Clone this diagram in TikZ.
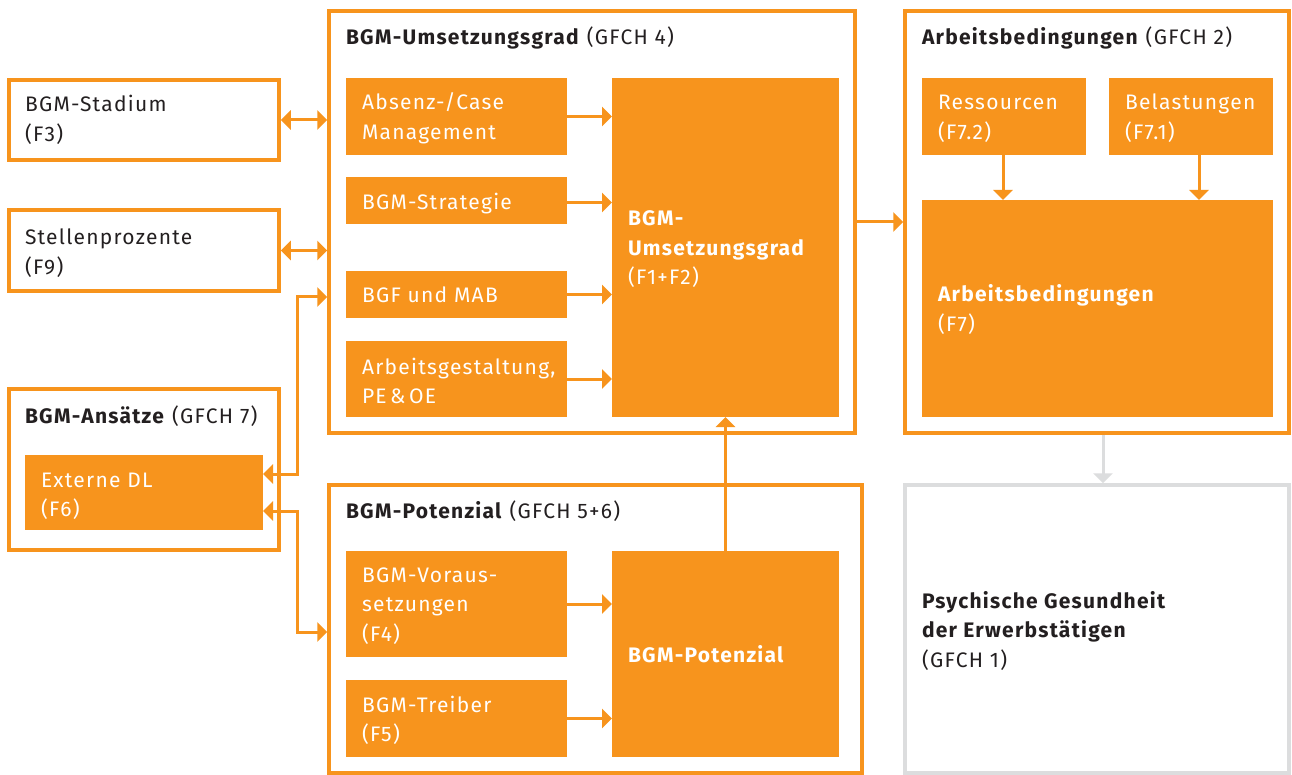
\documentclass[tikz,border=0pt]{standalone}
\usepackage{fontspec}
\setmainfont{Fira Sans}[LetterSpace=6]
\usetikzlibrary{arrows.meta,calc}
\definecolor{org}{HTML}{F7941D}
\definecolor{txt}{HTML}{231F20}
\definecolor{gry}{HTML}{DCDDDE}
\newcommand\mkbox[6]{\node[#2,anchor=north west,minimum width={(#5-#3)*1pt},minimum height={(#6-#4)*1pt}] (#1) at (#3,#4) {};}
\begin{document}
\begin{tikzpicture}[x=1pt,y=-1pt,
  obox/.style={draw=org,line width=3.5pt,fill=white,inner sep=0pt,outer sep=0pt,rectangle},
  gbox/.style={obox,draw=gry},
  fbox/.style={fill=org,inner sep=0pt,outer sep=0pt,rectangle},
  lbl/.style={anchor=base west,inner sep=0pt,outer sep=0pt,font=\fontsize{21}{29.5}\selectfont,text=txt,align=left},
  wlbl/.style={lbl,text=white},
  con/.style={draw=org,line width=3pt,-{Triangle[width=19pt,length=10pt]}},
  dcon/.style={draw=org,line width=3pt,{Triangle[width=19pt,length=10pt]}-{Triangle[width=19pt,length=10pt]}},
  gcon/.style={draw=gry,line width=3pt,-{Triangle[width=19pt,length=10pt]}},
]
\path[fill=white] (0,0) rectangle (1292,775);
\useasboundingbox (0,0) rectangle (1292,775);
% outline boxes (line centres)
\mkbox{stadium}{obox}{9}{80}{279}{160}
\mkbox{stellen}{obox}{9}{210}{279}{291}
\mkbox{ansaetze}{obox}{9}{389}{279}{550}
\mkbox{umsOuter}{obox}{329}{11}{855}{433}
\mkbox{potOuter}{obox}{329}{485}{862}{773}
\mkbox{arbOuter}{obox}{905}{11}{1289}{433}
\mkbox{psych}{gbox}{905}{485}{1289}{773}
% filled boxes
\mkbox{extdl}{fbox}{25}{455}{263}{530}
\mkbox{absenz}{fbox}{346}{78}{567}{155}
\mkbox{strat}{fbox}{346}{177}{567}{224}
\mkbox{bgf}{fbox}{346}{271}{567}{318}
\mkbox{arbgest}{fbox}{346}{341}{567}{417}
\mkbox{umsBig}{fbox}{612}{78}{839}{417}
\mkbox{voraus}{fbox}{346}{551}{567}{657}
\mkbox{treiber}{fbox}{346}{680}{567}{757}
\mkbox{potBig}{fbox}{612}{551}{839}{757}
\mkbox{ress}{fbox}{922}{78}{1086}{155}
\mkbox{belast}{fbox}{1109}{78}{1273}{155}
\mkbox{arbBig}{fbox}{922}{200}{1273}{417}
% texts (anchor = baseline of the last line)
\node[lbl] (tStadium) at (25,141.5) {BGM-Stadium\\(F3)};
\node[lbl] (tStellen) at (25,274.5) {Stellenprozente\\(F9)};
\node[lbl] (tAns) at (25,423) {\textbf{BGM-Ansätze} (GFCH 7)};
\node[wlbl] (tExt) at (41,516.5) {Externe DL\\(F6)};
\node[lbl] (tUms) at (346,45) {\textbf{BGM-Umsetzungsgrad} (GFCH 4)};
\node[wlbl] (tAbs) at (362,139.5) {Absenz-/Case\\Management};
\node[wlbl] (tStrat) at (362,210) {BGM-Strategie};
\node[wlbl] (tBgf) at (362,303) {BGF und MAB};
\node[wlbl] (tArbG) at (362,403.5) {Arbeitsgestaltung,\\PE\,\&\,OE};
\node[wlbl] (tUmsBig) at (628,285) {\textbf{BGM-}\\\textbf{Umsetzungsgrad}\\(F1+F2)};
\node[lbl] (tArb) at (922,45) {\textbf{Arbeitsbedingungen} (GFCH 2)};
\node[wlbl] (tRess) at (938,139.5) {Ressourcen\\(F7.2)};
\node[wlbl] (tBel) at (1125,139.5) {Belastungen\\(F7.1)};
\node[wlbl] (tArbBig) at (938,331.5) {\textbf{Arbeitsbedingungen}\\(F7)};
\node[lbl] (tPot) at (346,518) {\textbf{BGM-Potenzial} (GFCH 5+6)};
\node[wlbl] (tVor) at (362,641) {BGM-Voraus-\\setzungen\\(F4)};
\node[wlbl] (tTrei) at (362,741.5) {BGM-Treiber\\(F5)};
\node[wlbl] (tPotBig) at (628,662) {\textbf{BGM-Potenzial}};
\node[lbl] (tPsych) at (922,667) {\textbf{Psychische Gesundheit}\\\textbf{der Erwerbstätigen}\\(GFCH 1)};
% connectors
\coordinate (k1) at (297,297);
\coordinate (k2) at (297,632);
\draw[dcon,shorten <=1.75pt,shorten >=1.75pt] (stadium.east) -- (stadium.east -| umsOuter.west);
\draw[dcon,shorten <=1.75pt,shorten >=1.75pt] (stellen.east) -- (stellen.east -| umsOuter.west);
\draw[dcon,shorten >=1.75pt] ($(extdl.east)+(0,-18.5)$) -| (k1) -- (k1 -| umsOuter.west);
\draw[dcon,shorten >=1.75pt] ($(extdl.east)+(0,18.5)$) -| (k2) -- (k2 -| potOuter.west);
\draw[con] (absenz.east) -- (absenz.east -| umsBig.west);
\draw[con] ($(strat.east)+(0,2)$) -- ($(strat.east -| umsBig.west)+(0,2)$);
\draw[con] (bgf.east) -- (bgf.east -| umsBig.west);
\draw[con] (arbgest.east) -- (arbgest.east -| umsBig.west);
\draw[con] (voraus.east) -- (voraus.east -| potBig.west);
\draw[con] (treiber.east) -- (treiber.east -| potBig.west);
\draw[con] (potBig.north) -- (umsBig.south);
\draw[con,shorten <=1.75pt,shorten >=1.75pt] (umsOuter.east) -- (umsOuter.east -| arbOuter.west);
\draw[con] ($(ress.south)+(-1,0)$) -- ($(ress.south |- arbBig.north)+(-1,0)$);
\draw[con] ($(belast.south)+(8,0)$) -- ($(belast.south |- arbBig.north)+(8,0)$);
\draw[gcon,shorten <=1.75pt,shorten >=1.75pt] ($(arbOuter.south)+(6,0)$) -- ($(psych.north)+(6,0)$);
\end{tikzpicture}
\end{document}
